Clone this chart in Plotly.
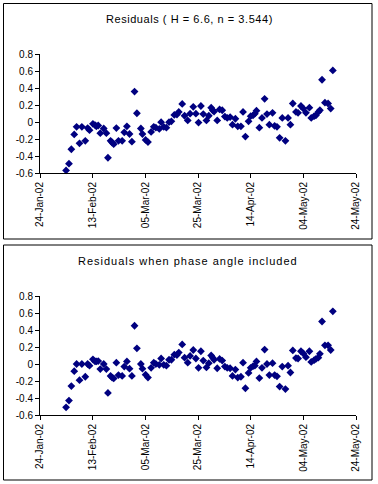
import pandas as pd
import plotly.graph_objects as go

# Observation times as day offsets from 24-Jan-2002
day_offsets = [9.9, 11, 11.9, 13, 13.9, 15, 15.9, 17.2, 18.1, 18.8, 20.1, 20.9, 21.4, 22.1, 22.9,
               24.2, 25.2, 25.8, 26.8, 27.4, 28, 29, 29.8, 31.2, 32, 33, 34, 34.9, 35.9, 36.8,
               38.3, 38.9, 40.1, 41, 42.2, 43.2, 44, 45.3, 46, 47, 48, 49, 49.9, 51, 52, 52.7,
               54, 54.9, 56.1, 57, 58.2, 59.2, 60.2, 61.1, 62, 63.2, 64.1, 65, 65.6, 66.1, 67.3,
               68.2, 69.2, 70.2, 71.1, 72.2, 73.1, 74.2, 75.1, 76.3, 77.1, 78, 79.2, 80, 80.9,
               81.6, 82.2, 83.3, 84.3, 85.3, 86.2, 87.1, 88.3, 89.1, 90, 91, 92, 93.2, 94.2, 95.1,
               96, 97.2, 98, 99.1, 100, 101, 102.3, 103, 104.1, 104.8, 105.7, 106.3, 107.1, 108.2,
               109.4, 110.4, 111.2]

residuals_h = [-0.57, -0.49, -0.32, -0.145, -0.055, -0.25, -0.055, -0.22, -0.07, -0.095, -0.02,
               -0.035, -0.05, -0.04, -0.13, -0.075, -0.13, -0.42, -0.22, -0.24, -0.26, -0.07,
               -0.22, -0.22, -0.12, -0.05, -0.14, -0.23, 0.36, 0.105, -0.075, -0.14, -0.21,
               -0.235, -0.115, -0.055, -0.065, -0.08, 0.0, -0.055, -0.065, 0.0, 0.01, 0.085,
               0.09, 0.12, 0.215, 0.075, 0.02, 0.1, 0.18, 0.1, -0.005, 0.19, 0.095, 0.02, 0.075,
               0.17, 0.14, 0.125, 0.02, 0.15, 0.14, 0.065, 0.05, 0.06, -0.03, 0.04, -0.05, -0.05,
               0.12, -0.17, 0.01, 0.07, 0.08, 0.1, 0.135, -0.065, 0.05, 0.275, 0.095, -0.03,
               0.11, -0.045, -0.055, -0.185, 0.05, -0.22, 0.05, -0.03, 0.22, 0.12, 0.11, 0.19,
               0.16, 0.11, 0.17, 0.05, 0.07, 0.08, 0.12, 0.14, 0.5, 0.23, 0.22, 0.16, 0.61]

residuals_phase = [-0.51, -0.43, -0.26, -0.085, 0.0, -0.19, 0.0, -0.15, 0.0, -0.02, 0.055, 0.03,
                   0.03, 0.035, -0.06, 0.0, -0.06, -0.34, -0.14, -0.16, -0.17, 0.015, -0.13,
                   -0.14, -0.03, 0.03, -0.055, -0.14, 0.45, 0.185, 0.0, -0.055, -0.125, -0.16,
                   -0.045, 0.015, 0.0, -0.01, 0.065, -0.01, -0.02, 0.05, 0.05, 0.11, 0.105,
                   0.135, 0.23, 0.075, 0.015, 0.095, 0.165, 0.065, -0.045, 0.15, 0.04, -0.04,
                   0.01, 0.1, 0.075, 0.05, -0.05, 0.06, 0.04, -0.03, -0.045, -0.05, -0.14,
                   -0.065, -0.16, -0.15, 0.015, -0.285, -0.105, -0.045, -0.025, -0.02, 0.03,
                   -0.165, -0.045, 0.17, 0.0, -0.13, 0.01, -0.13, -0.145, -0.265, -0.03, -0.295,
                   -0.02, -0.1, 0.16, 0.07, 0.065, 0.15, 0.125, 0.08, 0.15, 0.025, 0.045, 0.06,
                   0.075, 0.12, 0.5, 0.22, 0.22, 0.165, 0.62]

title_top = "Residuals ( H = 6.6, n = 3.544)"
title_bottom = "Residuals when phase angle included"

x_tick_dates = ["2002-01-24", "2002-02-13", "2002-03-05", "2002-03-25",
                "2002-04-14", "2002-05-04", "2002-05-24"]
y_tick_vals = [-0.6, -0.4, -0.2, 0, 0.2, 0.4, 0.6, 0.8]
y_tick_text = ["-0.6", "-0.4", "-0.2", "0", "0.2", "0.4", "0.6", "0.8"]

base = pd.Timestamp("2002-01-24")
dates = [base + pd.Timedelta(days=d) for d in day_offsets]

W, H = 378, 484
FONT = "Liberation Sans, Arial, sans-serif"
MARK = dict(symbol="diamond", size=6, color="#000080", line=dict(width=0))

fig = go.Figure()
fig.add_trace(go.Scatter(x=dates, y=residuals_h, mode="markers", marker=MARK,
                         xaxis="x", yaxis="y", showlegend=False, cliponaxis=False))
fig.add_trace(go.Scatter(x=dates, y=residuals_phase, mode="markers", marker=MARK,
                         xaxis="x2", yaxis="y2", showlegend=False, cliponaxis=False))

def px_x(p):
    return p / W

def px_y(p):
    return 1 - p / H

xdom = [px_x(40), px_x(356)]

def xaxis_cfg(anchor):
    return dict(domain=xdom, anchor=anchor, type="date", automargin=False,
                range=["2002-01-24", "2002-05-24"],
                tickvals=x_tick_dates, tickformat="%d-%b-%y", tickangle=-90,
                showline=True, linecolor="black", linewidth=1,
                ticks="outside", ticklen=4, tickcolor="black",
                showgrid=False, zeroline=False,
                tickfont=dict(family=FONT, size=10, color="black"))

def yaxis_cfg(anchor, dom):
    return dict(domain=dom, anchor=anchor, range=[-0.6, 0.8], automargin=False,
                tickvals=y_tick_vals, ticktext=y_tick_text,
                showline=True, linecolor="black", linewidth=1,
                ticks="outside", ticklen=4, tickcolor="black",
                showgrid=False, zeroline=False,
                tickfont=dict(family=FONT, size=10, color="black"))

def spaced(t, sp):
    return f'<span style="letter-spacing:{sp}px">{t}</span>'

fig.update_layout(
    width=W, height=H,
    margin=dict(l=0, r=0, t=0, b=0, autoexpand=False),
    paper_bgcolor="white", plot_bgcolor="white",
    xaxis=xaxis_cfg("y"),
    yaxis=yaxis_cfg("x", [px_y(173), px_y(54.3)]),
    xaxis2=xaxis_cfg("y2"),
    yaxis2=yaxis_cfg("x2", [px_y(415), px_y(296)]),
    font=dict(family=FONT, color="black"),
    shapes=[
        dict(type="rect", xref="paper", yref="paper",
             x0=px_x(3.5), x1=px_x(372), y0=px_y(239), y1=px_y(3.5),
             line=dict(color="black", width=1)),
        dict(type="rect", xref="paper", yref="paper",
             x0=px_x(3.5), x1=px_x(372), y0=px_y(480), y1=px_y(245),
             line=dict(color="black", width=1)),
    ],
    annotations=[
        dict(text=spaced(title_top, 0.55), xref="paper", yref="paper", x=px_x(189.5), y=px_y(19),
             showarrow=False, xanchor="center", yanchor="middle",
             font=dict(family=FONT, size=11, color="black")),
        dict(text=spaced(title_bottom, 1), xref="paper", yref="paper", x=px_x(188), y=px_y(261),
             showarrow=False, xanchor="center", yanchor="middle",
             font=dict(family=FONT, size=11, color="black")),
    ],
)

fig.write_html("out.html", config={"displayModeBar": False},
               post_script="document.body.style.margin='0';document.body.style.overflow='hidden';")
